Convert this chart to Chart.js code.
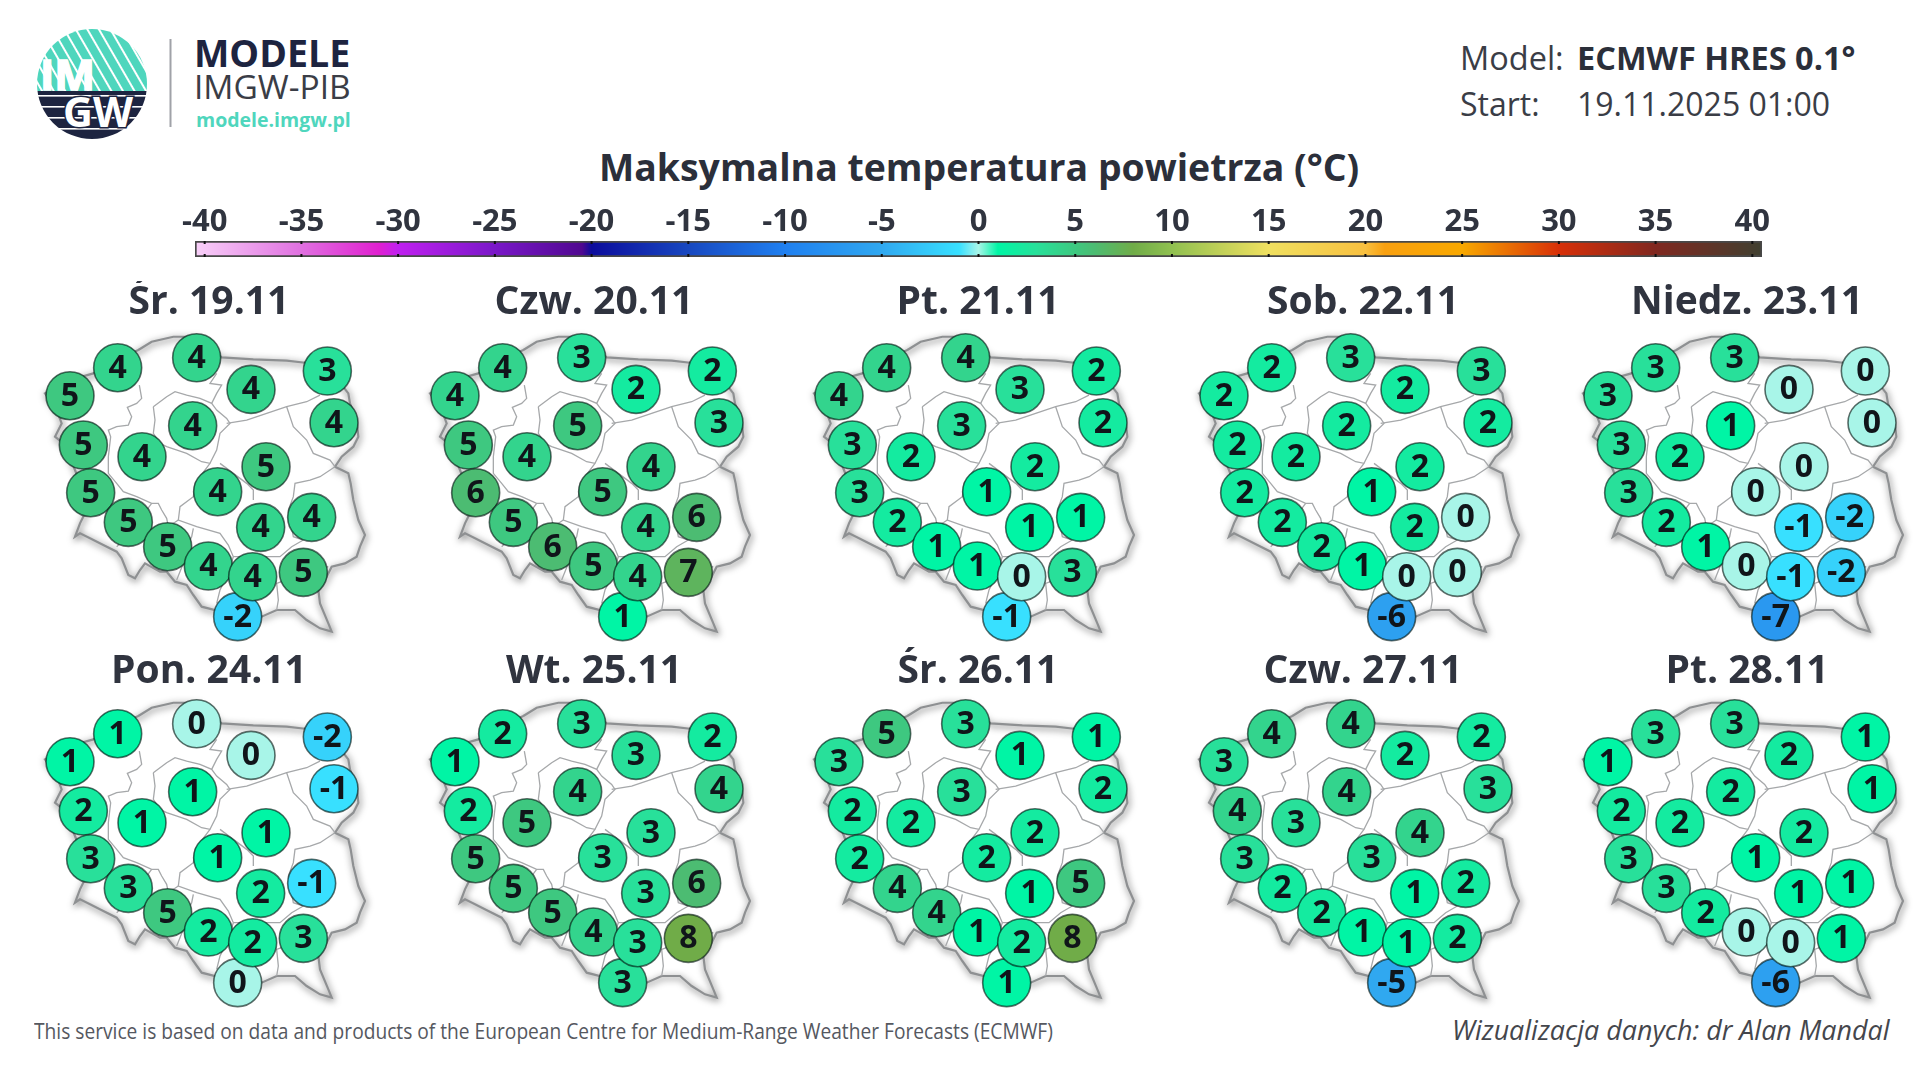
<!DOCTYPE html>
<html lang="pl"><head><meta charset="utf-8"><title>Maksymalna temperatura powietrza</title>
<script src="https://cdn.jsdelivr.net/npm/chart.js@4"></script>
<style>
html,body{margin:0;padding:0;width:1920px;height:1080px;overflow:hidden;background:#fff;font-family:"Open Sans",sans-serif;color:#30343f}
canvas{position:absolute}
.t{position:absolute;white-space:nowrap;line-height:1;transform-origin:0 0}
</style></head><body>
<svg width="180" height="150" style="position:absolute;left:0;top:0" xmlns="http://www.w3.org/2000/svg">
<defs>
<clipPath id="c"><circle cx="92" cy="84" r="55"/></clipPath>
<pattern id="d" width="10" height="10" patternUnits="userSpaceOnUse" patternTransform="rotate(-30)"><rect width="10" height="10" fill="#4fd6bd"/><rect width="2" height="10" fill="#fff"/></pattern>
<pattern id="h" width="11" height="11" patternUnits="userSpaceOnUse"><rect width="11" height="11" fill="#1d2440"/><rect y="7" width="11" height="1.6" fill="#fff"/></pattern>
</defs>
<g clip-path="url(#c)"><rect x="30" y="25" width="125" height="66" fill="url(#d)"/><rect x="30" y="91" width="125" height="55" fill="url(#h)"/></g>
<text x="40" y="90" font-family="Open Sans" font-weight="700" font-size="42" fill="#fff" stroke="#fff" stroke-width="1.6" textLength="55" lengthAdjust="spacingAndGlyphs">IM</text>
<text x="63" y="127" font-family="Open Sans" font-weight="700" font-size="42" fill="#fff" stroke="#1d2440" stroke-width="3" paint-order="stroke" textLength="70" lengthAdjust="spacingAndGlyphs">GW</text>
<rect x="169.5" y="39" width="2" height="88" fill="#a0a2a8"/>
</svg>
<div class="t" style="left:194px;top:34px;font-size:37.5px;font-weight:700;color:#1d2440">MODELE</div>
<div class="t" style="left:194px;top:70px;font-size:33.5px;color:#3a3d46">IMGW-PIB</div>
<div class="t" style="left:196px;top:110px;font-size:19.5px;font-weight:700;color:#4fd6bd">modele.imgw.pl</div>
<div class="t" style="left:1460px;top:42px;font-size:32.5px;color:#3a3d46">Model:</div>
<div class="t" style="left:1577px;top:42px;font-size:32.5px;font-weight:700;color:#2b2f3a">ECMWF HRES 0.1°</div>
<div class="t" style="left:1460px;top:88px;font-size:32px;color:#3a3d46">Start:</div>
<div class="t" style="left:1577px;top:88px;font-size:32px;color:#3a3d46">19.11.2025 01:00</div>
<div class="t" style="left:599px;top:148px;font-size:37.4px;font-weight:700;color:#2b2f3a">Maksymalna temperatura powietrza (°C)</div>
<div class="t" style="left:34px;top:1021px;font-size:21px;color:#55585f;transform:scaleX(.913)">This service is based on data and products of the European Centre for Medium-Range Weather Forecasts (ECMWF)</div>
<div class="t" style="left:1452px;top:1015px;font-size:28px;font-style:italic;color:#44464c;transform:scaleX(.96)">Wizualizacja danych: dr Alan Mandal</div>
<canvas id="bar" width="1760" height="62" style="left:100px;top:195px"></canvas>
<script>
const scaleTicks = [-40,-35,-30,-25,-20,-15,-10,-5,0,5,10,15,20,25,30,35,40];
const dayLabels = ["Śr. 19.11","Czw. 20.11","Pt. 21.11","Sob. 22.11","Niedz. 23.11","Pon. 24.11","Wt. 25.11","Śr. 26.11","Czw. 27.11","Pt. 28.11"];
const stationX = [653,150,293,530,922,693,518,942,190,366,738,212,593,325,722,875,443,565,698,850];
const stationY = [1040,377,293,263,303,358,467,458,525,560,590,668,665,757,772,742,830,888,920,907];
const day1 = [-2,5,4,4,3,4,4,4,5,4,5,5,4,5,4,4,5,4,4,5];
const day2 = [1,4,4,3,2,2,5,3,5,4,4,6,5,5,4,6,6,5,4,7];
const day3 = [-1,4,4,4,2,3,3,2,3,2,2,3,1,2,1,1,1,1,0,3];
const day4 = [-6,2,2,3,3,2,2,2,2,2,2,2,1,2,2,0,2,1,0,0];
const day5 = [-7,3,3,3,0,0,1,0,3,2,0,3,0,2,-1,-2,1,0,-1,-2];
const day6 = [0,1,1,0,-2,0,1,-1,2,1,1,3,1,3,2,-1,5,2,2,3];
const day7 = [3,1,2,3,2,3,4,4,2,5,3,5,3,5,3,6,5,4,3,8];
const day8 = [1,3,5,3,1,1,3,2,2,2,2,2,2,4,1,5,4,1,2,8];
const day9 = [-5,3,4,4,2,2,4,3,4,3,4,3,3,2,1,2,2,1,1,2];
const day10 = [-6,1,3,3,1,2,2,1,2,2,2,3,1,3,1,1,2,0,0,1];
const dayValues = [day1,day2,day3,day4,day5,day6,day7,day8,day9,day10];

const outline = [[355,240],[395,215],[460,200],[530,200],[605,262],[700,268],[800,272],[855,278],[930,300],[985,370],[990,400],[1010,450],[1015,500],[1000,530],[965,560],[945,590],[985,610],[992,640],[1000,690],[1015,750],[1035,795],[1020,830],[1010,860],[975,880],[935,890],[915,930],[895,960],[900,1000],[925,1060],[935,1085],[900,1075],[860,1050],[825,1020],[770,1020],[725,1040],[650,1010],[585,1020],[545,1010],[520,975],[500,945],[465,935],[440,905],[420,905],[375,880],[360,900],[345,925],[325,915],[305,865],[290,845],[250,825],[210,805],[180,790],[165,800],[180,760],[195,730],[180,640],[165,600],[130,520],[105,500],[125,460],[110,420],[75,370],[150,330],[220,310],[290,270],[355,240]];
const borders = [
 [[358,345],[365,385],[350,400],[322,412],[335,440],[325,465],[290,470],[265,480],[272,500],[265,560],[265,610],[290,640],[310,665],[350,680],[395,700],[415,700],[425,720],[440,745],[445,770],[475,750]],
 [[400,410],[440,380],[465,365],[500,375],[540,385],[575,400],[590,420],[620,445],[630,460],[600,490],[590,540],[570,580],[545,575],[500,550],[440,530],[420,520],[400,490],[405,450],[400,410]],
 [[620,460],[680,450],[740,430],[800,410],[860,395],[900,375]],
 [[590,310],[570,340],[605,345],[590,370],[575,400]],
 [[800,410],[820,470],[860,510],[880,550],[930,570],[945,590]],
 [[945,590],[900,620],[870,630],[825,640],[820,680],[805,720],[820,800],[850,810],[815,830],[780,860],[760,860],[640,860]],
 [[925,890],[850,910],[770,940],[775,990],[770,1020]],
 [[570,580],[525,640],[520,680],[480,710],[475,750],[530,770],[600,790],[625,825],[640,860],[620,920],[600,960],[590,1000]],
 [[600,580],[680,640],[700,660],[700,690]],
 [[520,775],[515,800],[500,830],[490,880],[470,930]],
 [[290,830],[320,800],[395,700]]
];
const colorStops = [[-40.5,"#f8d0f8"],[-35,"#e070e0"],[-31,"#e020d0"],[-30,"#c020f0"],[-25,"#7a18c8"],[-20.5,"#500890"],[-20,"#0c0c9c"],[-15,"#1848c0"],[-10,"#2080f0"],[-5,"#30a8f0"],[-1,"#38e0ff"],[0,"#a8f5e8"],[1,"#00f5a5"],[3,"#28e09a"],[5,"#3ec880"],[6,"#4cbc72"],[8,"#70ac48"],[10,"#90c050"],[15,"#f0e060"],[20,"#f8c040"],[21,"#f8a010"],[25,"#f8a800"],[30,"#d83008"],[35,"#802820"],[40.5,"#404030"]];

function hexRgb(h){return [1,3,5].map(i=>parseInt(h.substr(i,2),16));}
function colorFor(v){
  for(let i=1;i<colorStops.length;i++){
    if(v<=colorStops[i][0]){
      const [a,ca]=colorStops[i-1],[b,cb]=colorStops[i],t=(v-a)/(b-a),p=hexRgb(ca),q=hexRgb(cb);
      return `rgb(${p.map((x,k)=>Math.round(x+(q[k]-x)*t)).join(",")})`;
    }
  }
  return colorStops[colorStops.length-1][1];
}

new Chart(document.getElementById("bar"),{
  type:"bar",
  data:{labels:["t"],datasets:[{data:[[-40.5,40.5]],barPercentage:1,categoryPercentage:1,borderWidth:2,borderColor:"#484848",borderSkipped:false,
    backgroundColor(c){
      const ch=c.chart,a=ch.chartArea; if(!a) return "#888";
      const g=ch.ctx.createLinearGradient(a.left,0,a.right,0);
      colorStops.forEach(s=>g.addColorStop((s[0]+40.5)/81,s[1]));
      return g;
    }}]},
  options:{indexAxis:"y",responsive:false,animation:false,devicePixelRatio:1,
    layout:{autoPadding:false,padding:{left:95,right:98,top:0,bottom:0}},
    plugins:{legend:{display:false},tooltip:{enabled:false}},
    scales:{
      y:{display:false},
      x:{position:"top",min:-40.5,max:40.5,grid:{display:false,drawTicks:false},border:{display:false},
        afterBuildTicks(s){s.ticks=scaleTicks.map(v=>({value:v}));},
        afterFit(s){s.height=46;},
        ticks:{autoSkip:false,maxRotation:0,padding:2,color:"#30343f",font:{family:"Open Sans",size:31,weight:"700",lineHeight:1.1},callback:v=>String(v)}}
    }},
  plugins:[{id:"marks",afterDraw(ch){
    const s=ch.scales.x,a=ch.chartArea,c=ch.ctx;
    c.fillStyle="#111";
    s.ticks.forEach(t=>{const x=s.getPixelForValue(t.value);c.fillRect(x-1,a.top,2,3);c.fillRect(x-1,a.bottom-3,2,3);});
  }}]
});

const numbersPlugin={id:"numbers",
  beforeDatasetDraw(ch,args){ if(ch.data.datasets[args.index].shadow){const c=ch.ctx;c.save();c.shadowColor="rgba(0,0,0,.7)";c.shadowBlur=7;c.shadowOffsetX=1;c.shadowOffsetY=2;} },
  afterDatasetDraw(ch,args){ if(ch.data.datasets[args.index].shadow){ch.ctx.restore();} },
  afterDatasetsDraw(ch){
    const c=ch.ctx,m=ch.getDatasetMeta(0),vals=ch.data.datasets[0].values;
    c.save();c.font='700 32px "Open Sans"';c.textAlign="center";c.textBaseline="middle";c.fillStyle="#10151a";
    m.data.forEach((p,i)=>c.fillText(String(vals[i]),p.x,p.y+1));
    c.restore();
  }};

dayLabels.forEach((label,i)=>{
  const col=i%5,row=Math.floor(i/5);
  const left=16+384.6*col,width=386,top=281+366*row;
  const cv=document.createElement("canvas");
  cv.width=width;cv.height=365;cv.style.left=left+"px";cv.style.top=top+"px";
  document.body.appendChild(cv);
  const pts=a=>a.map(p=>({x:p[0],y:p[1]}));
  const vals=dayValues[i];
  new Chart(cv,{
    type:"scatter",
    data:{datasets:[
      {data:stationX.map((x,k)=>({x,y:stationY[k]})),values:vals,pointRadius:24,pointBorderWidth:1.6,pointBorderColor:"rgba(0,20,15,.62)",
       pointBackgroundColor:vals.map(colorFor),showLine:false,clip:false},
      ...borders.map(b=>({data:pts(b),showLine:true,pointRadius:0,borderColor:"#a6a8aa",borderWidth:1.3,tension:0,clip:false})),
      {data:pts(outline),showLine:true,pointRadius:0,borderColor:"#8e9092",borderWidth:2.2,tension:0,clip:false,shadow:true}
    ]},
    options:{responsive:false,animation:false,devicePixelRatio:1,
      layout:{autoPadding:false,padding:0},
      plugins:{legend:{display:false},tooltip:{enabled:false},
        title:{display:true,text:label,color:"#30343f",align:"center",
          padding:row===0?{top:0,bottom:4}:{top:3,bottom:1},
          font:{family:"Open Sans",size:39,weight:"700",lineHeight:1.14}}},
      scales:{
        x:{display:false,type:"linear",min:-12,max:(width-4)*3},
        y:{display:false,type:"linear",reverse:true,min:178.2,max:1128}
      }},
    plugins:[numbersPlugin]
  });
});
</script>
</body></html>
